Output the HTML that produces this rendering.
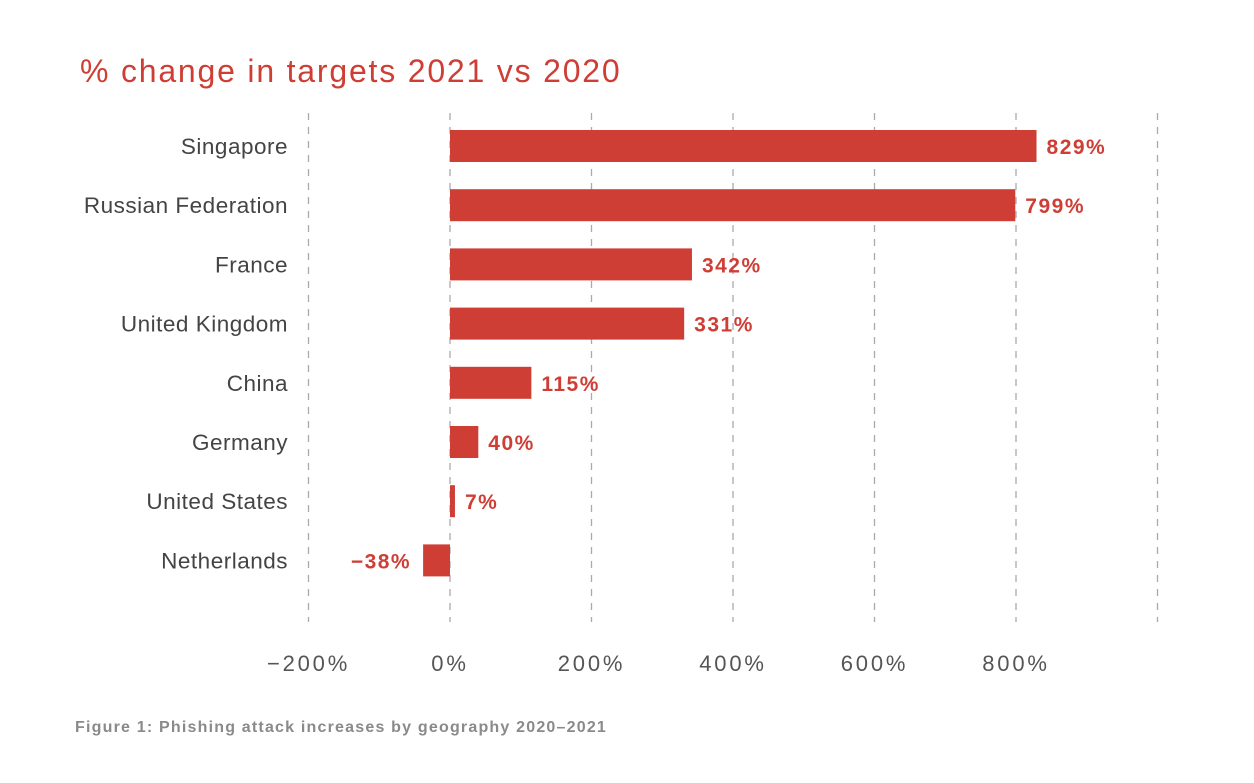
<!DOCTYPE html>
<html><head><meta charset="utf-8"><style>
body{margin:0;background:#fff;width:1254px;height:778px;overflow:hidden;font-family:"Liberation Sans",sans-serif}
</style></head><body>
<svg id="chart" width="1254" height="778" xmlns="http://www.w3.org/2000/svg">
<text x="80" y="82" font-size="32" letter-spacing="1.8" fill="#cf3e35" font-family="Liberation Sans, sans-serif">% change in targets 2021 vs 2020</text>
<g id="grid"></g><g id="bars"></g><g id="labels"></g>
<text x="75" y="732" font-size="16" letter-spacing="1.2" font-weight="bold" fill="#8a8a8a">Figure 1: Phishing attack increases by geography 2020–2021</text>
</svg>
<script>
const categories=["Singapore","Russian Federation","France","United Kingdom","China","Germany","United States","Netherlands"];
const values=[829,799,342,331,115,40,7,-38];
const valueLabels=["829%","799%","342%","331%","115%","40%","7%","−38%"];
const ticks=[-200,0,200,400,600,800,1000];
const tickLabels=["−200%","0%","200%","400%","600%","800%",""];
const NS="http://www.w3.org/2000/svg";
const x=v=>450+v*(141.5/200);
const y=i=>146+i*59.2;
function mk(t,a,p){const e=document.createElementNS(NS,t);for(const k in a)e.setAttribute(k,a[k]);p.appendChild(e);return e;}
const grid=document.getElementById('grid'),bars=document.getElementById('bars'),labels=document.getElementById('labels');
ticks.forEach((t,i)=>{
 const l=mk('line',{x1:x(t),x2:x(t),y1:113,y2:622,stroke:'#aaa','stroke-width':1.3,'stroke-dasharray':'7 7'},grid);
 
 
 const tx=mk('text',{x:x(t),y:671,'font-size':22,'letter-spacing':2.8,fill:'#555','text-anchor':'middle'},grid);
 tx.textContent=tickLabels[i];
 
 
});
categories.forEach((c,i)=>{
 const v=values[i],cy=y(i);
 const r=mk('rect',{x:Math.min(x(0),x(v)),y:cy-16,width:Math.abs(x(v)-x(0)),height:32,fill:'#cf3e35'},bars);
 
 
 const cl=mk('text',{x:288,y:cy+8,'font-size':22.5,'letter-spacing':0.5,fill:'#444','text-anchor':'end'},labels);
 cl.textContent=c;
 
 
 const vl=mk('text',{x:v>=0?x(v)+10:x(v)-12,y:cy+8,'font-size':21,'letter-spacing':1.5,'font-weight':'bold',fill:'#cf3e35','text-anchor':v>=0?'start':'end'},labels);
 vl.textContent=valueLabels[i];
 
 
});
</script>
</body></html>
